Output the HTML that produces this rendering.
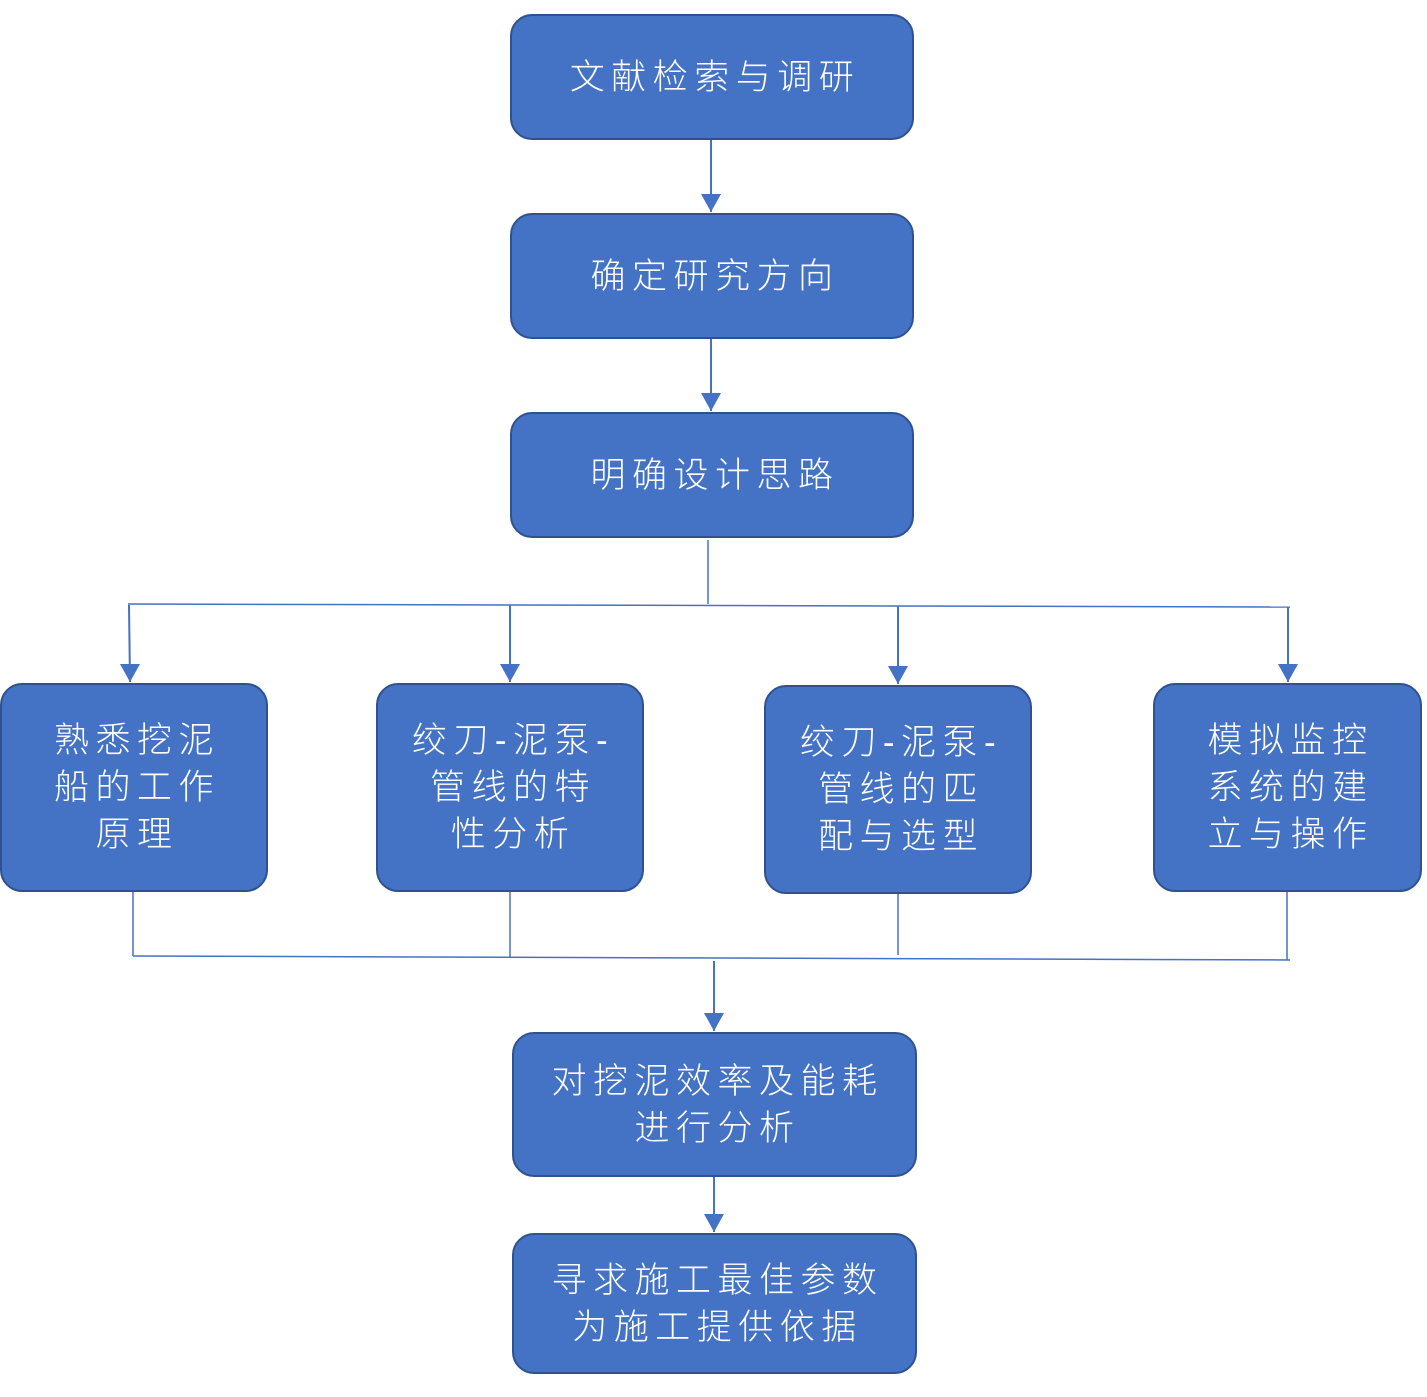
<!DOCTYPE html>
<html><head><meta charset="utf-8"><style>
body{margin:0;width:1427px;height:1397px;background:#fff;position:relative;overflow:hidden;font-family:"Liberation Sans","Noto Sans CJK SC",sans-serif;}
.b{position:absolute;box-sizing:border-box;background:#4472C4;border:2px solid #2F528F;border-radius:22px;color:#fff;font-size:35px;font-weight:300;letter-spacing:6.5px;padding-left:6px;line-height:47px;display:flex;align-items:center;justify-content:center;text-align:center;}
svg{position:absolute;left:0;top:0;}
</style></head><body>
<svg width="1427" height="1397">
<defs>
<marker id="c" markerWidth="20" markerHeight="18" refX="10" refY="18" orient="0" markerUnits="userSpaceOnUse" viewBox="0 0 20 18"><path d="M0,0 L20,0 L10,18z" fill="#4472C4"/></marker></defs>
<g stroke="#4472C4" stroke-width="2" fill="none">
<line x1="711" y1="140" x2="711" y2="212" marker-end="url(#c)"/>
<line x1="711" y1="339" x2="711" y2="411" marker-end="url(#c)"/>
<line x1="708" y1="540" x2="708" y2="604" stroke-width="1.5"/>
<line x1="128" y1="604" x2="1290" y2="607" stroke-width="1.5"/>
<line x1="129" y1="605" x2="130" y2="682" marker-end="url(#c)"/>
<line x1="510" y1="605" x2="510" y2="682" marker-end="url(#c)"/>
<line x1="898" y1="606" x2="898" y2="684" marker-end="url(#c)"/>
<line x1="1288" y1="607" x2="1288" y2="682" marker-end="url(#c)"/>
<g stroke-width="1.5">
<line x1="133" y1="892" x2="133" y2="956"/>
<line x1="510" y1="892" x2="510" y2="957"/>
<line x1="898" y1="894" x2="898" y2="955"/>
<line x1="1287" y1="892" x2="1287" y2="960"/>
<line x1="133" y1="956" x2="1290" y2="960"/>
</g>
<line x1="714" y1="961" x2="714" y2="1031" marker-end="url(#c)"/>
<line x1="714" y1="1177" x2="714" y2="1232" marker-end="url(#c)"/>
</g></svg>
<div class="b" style="left:510px;top:14px;width:404px;height:126px">文献检索与调研</div>
<div class="b" style="left:510px;top:213px;width:404px;height:126px">确定研究方向</div>
<div class="b" style="left:510px;top:412px;width:404px;height:126px">明确设计思路</div>
<div class="b" style="left:0px;top:683px;width:268px;height:209px">熟悉挖泥<br>船的工作<br>原理</div>
<div class="b" style="left:376px;top:683px;width:268px;height:209px">绞刀-泥泵-<br>管线的特<br>性分析</div>
<div class="b" style="left:764px;top:685px;width:268px;height:209px">绞刀-泥泵-<br>管线的匹<br>配与选型</div>
<div class="b" style="left:1153px;top:683px;width:269px;height:209px">模拟监控<br>系统的建<br>立与操作</div>
<div class="b" style="left:512px;top:1032px;width:405px;height:145px">对挖泥效率及能耗<br>进行分析</div>
<div class="b" style="left:512px;top:1233px;width:405px;height:141px">寻求施工最佳参数<br>为施工提供依据</div>
</body></html>
